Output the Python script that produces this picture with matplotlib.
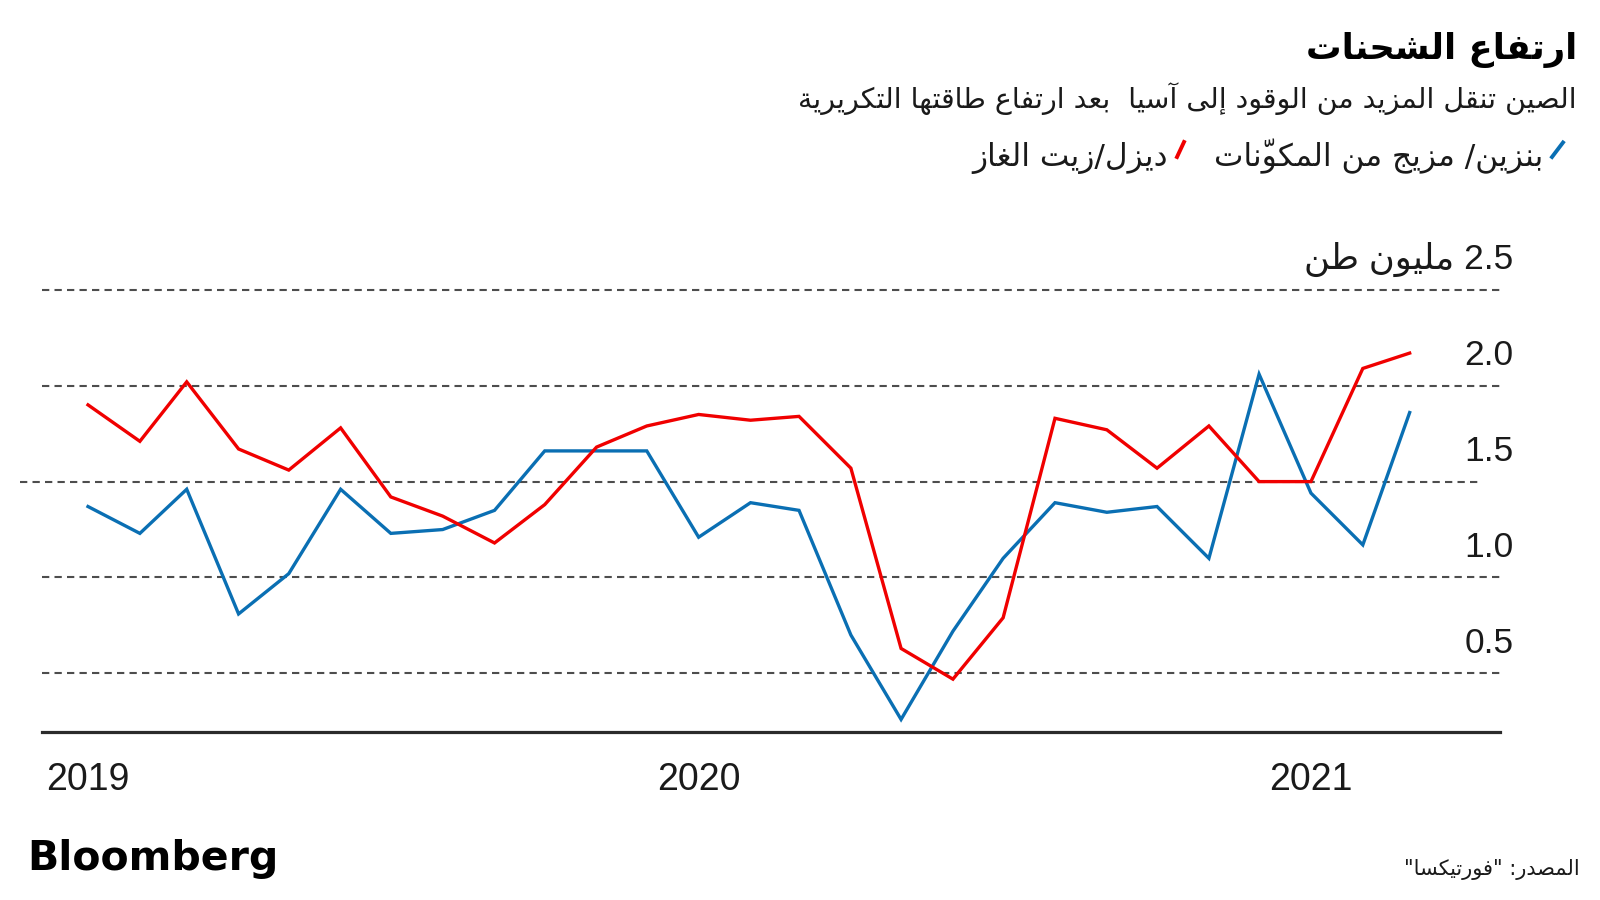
import numpy as np
import pandas as pd
import matplotlib
matplotlib.use("Agg")
import matplotlib.pyplot as plt
import matplotlib.dates as mdates
from matplotlib.lines import Line2D

# Monthly shipments, million tonnes (Jan 2019 - Mar 2021)
months = pd.date_range("2019-01-01", "2021-03-01", freq="MS")
diesel = [1.90, 1.71, 2.02, 1.67, 1.56, 1.78, 1.42, 1.32, 1.18, 1.38, 1.68, 1.79,
          1.85, 1.82, 1.84, 1.57, 0.63, 0.47, 0.79, 1.83, 1.77, 1.57, 1.79, 1.50,
          1.50, 2.09, 2.17]
gasoline = [1.37, 1.23, 1.46, 0.81, 1.02, 1.46, 1.23, 1.25, 1.35, 1.66, 1.66, 1.66,
            1.21, 1.39, 1.35, 0.70, 0.26, 0.72, 1.10, 1.39, 1.34, 1.37, 1.10, 2.06,
            1.44, 1.17, 1.86]
y_ticks = [0.5, 1.0, 1.5, 2.0, 2.5]
year_ticks = ["2019", "2020", "2021"]

TITLE = "ارتفاع الشحنات"
SUBTITLE = "الصين تنقل المزيد من الوقود إلى آسيا  بعد ارتفاع طاقتها التكريرية"
LEG_GASOLINE = "بنزين/ مزيج من المكوّنات"
LEG_DIESEL = "ديزل/زيت الغاز"
UNIT = "مليون طن"
SOURCE = 'المصدر: "فورتيكسا"'

BLUE = "#0a6fb3"
RED = "#f00000"
GRID = "#4d4d4d"

# --- minimal Arabic shaping + RTL ordering (matplotlib has no bidi) ---
_AR = {
    "ء": (0xFE80, 1), "آ": (0xFE81, 2), "أ": (0xFE83, 2), "ؤ": (0xFE85, 2),
    "إ": (0xFE87, 2), "ئ": (0xFE89, 4), "ا": (0xFE8D, 2), "ب": (0xFE8F, 4),
    "ة": (0xFE93, 2), "ت": (0xFE95, 4), "ث": (0xFE99, 4), "ج": (0xFE9D, 4),
    "ح": (0xFEA1, 4), "خ": (0xFEA5, 4), "د": (0xFEA9, 2), "ذ": (0xFEAB, 2),
    "ر": (0xFEAD, 2), "ز": (0xFEAF, 2), "س": (0xFEB1, 4), "ش": (0xFEB5, 4),
    "ص": (0xFEB9, 4), "ض": (0xFEBD, 4), "ط": (0xFEC1, 4), "ظ": (0xFEC5, 4),
    "ع": (0xFEC9, 4), "غ": (0xFECD, 4), "ف": (0xFED1, 4), "ق": (0xFED5, 4),
    "ك": (0xFED9, 4), "ل": (0xFEDD, 4), "م": (0xFEE1, 4), "ن": (0xFEE5, 4),
    "ه": (0xFEE9, 4), "و": (0xFEED, 2), "ى": (0xFEEF, 2), "ي": (0xFEF1, 4),
    "\uFEF5": (0xFEF5, 2), "\uFEF7": (0xFEF7, 2), "\uFEF9": (0xFEF9, 2),
    "\uFEFB": (0xFEFB, 2),
}
_LAM_ALEF = {"لآ": "\uFEF5", "لأ": "\uFEF7", "لإ": "\uFEF9", "لا": "\uFEFB"}


def _is_mark(c):
    return "\u064B" <= c <= "\u0652"


def ar(text):
    for k, v in _LAM_ALEF.items():
        text = text.replace(k, v)
    chars = list(text)
    n = len(chars)

    def neighbour(i, step):
        j = i + step
        while 0 <= j < n and _is_mark(chars[j]):
            j += step
        return chars[j] if 0 <= j < n else None

    shaped = []
    for i, c in enumerate(chars):
        if c not in _AR:
            shaped.append(c)
            continue
        base, kind = _AR[c]
        p, q = neighbour(i, -1), neighbour(i, 1)
        jp = kind >= 2 and p in _AR and _AR[p][1] == 4
        jn = kind == 4 and q in _AR and _AR[q][1] >= 2
        off = 3 if (jp and jn) else 1 if jp else 2 if jn else 0
        shaped.append(chr(base + off))

    # keep marks with their base; in visual order the mark goes first
    clusters = []
    for c in shaped:
        if _is_mark(c) and clusters:
            clusters[-1] = c + clusters[-1]
        else:
            clusters.append(c)

    runs = []
    for cl in clusters:
        ch = cl[-1]
        ltr = ch.isascii() and (ch.isalnum() or ch == ".")
        if runs and runs[-1][0] == ltr:
            runs[-1][1].append(cl)
        else:
            runs.append((ltr, [cl]))
    out = []
    for ltr, cls in reversed(runs):
        out.extend(cls if ltr else reversed(cls))
    return "".join(out)


AR_FONT = ["DejaVu Sans"]
NUM_FONT = ["Liberation Sans", "DejaVu Sans"]

fig = plt.figure(figsize=(16, 9), dpi=100)
W, H = 1600, 900


def fx(px):
    return px / W


def fy(py):
    return 1 - py / H


ax = fig.add_axes([fx(42), fy(731.7), fx(1500) - fx(42), fy(289.8) - fy(731.7)])

ax.plot(months, gasoline, color=BLUE, lw=2.4, solid_joinstyle="miter", zorder=3)
ax.plot(months, diesel, color=RED, lw=2.4, solid_joinstyle="miter", zorder=4)

ax.set_ylim(0.196, 2.5)
ax.set_xlim(months[0] - pd.Timedelta(days=27.5), months[-1] + pd.Timedelta(days=54))

# dashed reference lines
for v in y_ticks:
    if v == 1.5:
        ax.axhline(v, xmin=-0.015, xmax=0.986, color=GRID, lw=1.5,
                   ls=(0, (3.5, 2.5)), clip_on=False, zorder=1)
    else:
        ax.axhline(v, color=GRID, lw=1.5, ls=(0, (3.5, 2.5)), clip_on=False, zorder=1)

# value labels above the lines, right side
for v in y_ticks:
    lab = f"{v:.1f}"
    if v == y_ticks[-1]:
        lab = ar(f"{lab} {UNIT}")
    ax.annotate(lab, xy=(1.0093, v), xycoords=("axes fraction", "data"),
                xytext=(0, 15), textcoords="offset points",
                ha="right", va="baseline", fontsize=25.5, color="#1a1a1a",
                family=NUM_FONT, annotation_clip=False)

ax.set_yticks([])
for s in ["left", "right", "top"]:
    ax.spines[s].set_visible(False)
ax.spines["bottom"].set_linewidth(2.3)
ax.spines["bottom"].set_color("#2b2b2b")

ax.set_xticks([pd.Timestamp(f"{y}-01-01") for y in year_ticks])
ax.set_xticklabels(year_ticks, fontsize=27, family=NUM_FONT, color="#1a1a1a")
ax.tick_params(axis="x", length=0, pad=22)

# header
fig.text(fx(1577), fy(59), ar(TITLE), ha="right", va="baseline",
         fontsize=25.5, fontweight="bold", family=AR_FONT, color="#000000")
fig.text(fx(1577), fy(108), ar(SUBTITLE), ha="right", va="baseline",
         fontsize=20.5, family=AR_FONT, color="#1a1a1a")

# legend
fig.add_artist(Line2D([fx(1552), fx(1563)], [fy(157), fy(142.5)], color=BLUE,
                      lw=2.8, transform=fig.transFigure))
fig.text(fx(1543), fy(166), ar(LEG_GASOLINE), ha="right", va="baseline",
         fontsize=22.5, family=AR_FONT, color="#1a1a1a")
fig.add_artist(Line2D([fx(1177), fx(1184)], [fy(157), fy(142)], color=RED,
                      lw=2.8, transform=fig.transFigure))
fig.text(fx(1168), fy(166), ar(LEG_DIESEL), ha="right", va="baseline",
         fontsize=22.5, family=AR_FONT, color="#1a1a1a")

# footer
fig.text(fx(27), fy(870), "Bloomberg", ha="left", va="baseline",
         fontsize=29.5, fontweight="bold", family=["DejaVu Sans"], color="#000000")
fig.text(fx(1580), fy(875), ar(SOURCE), ha="right", va="baseline",
         fontsize=15, family=AR_FONT, color="#1a1a1a")

fig.savefig("out.png", dpi=100, facecolor="white")
